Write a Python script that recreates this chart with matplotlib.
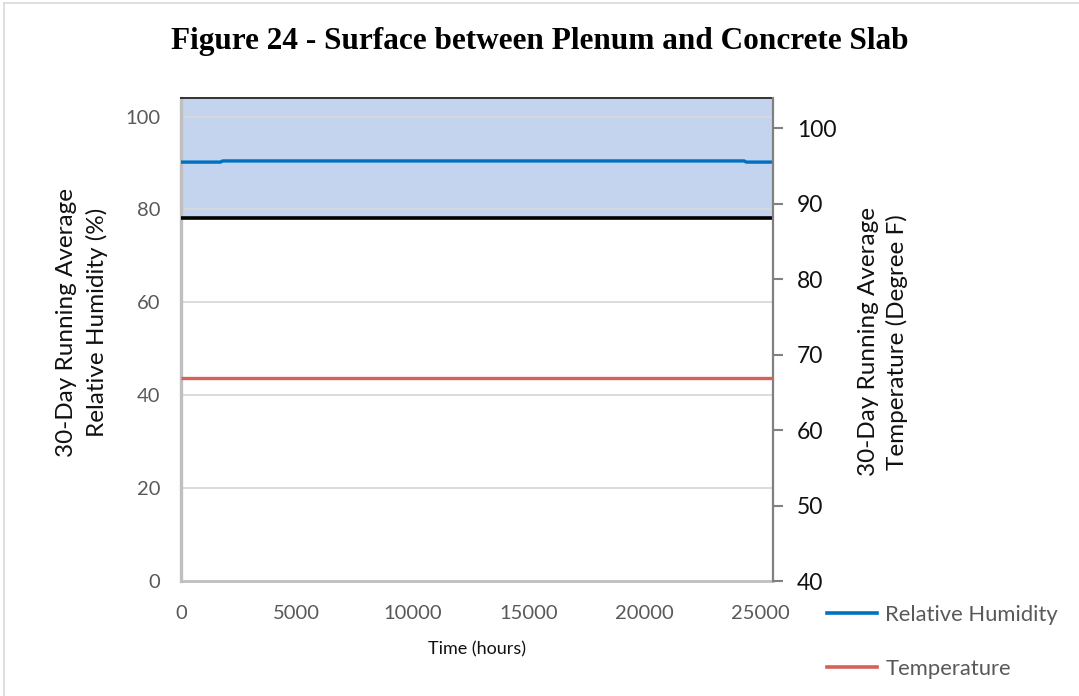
import matplotlib
matplotlib.use("Agg")
import matplotlib.pyplot as plt
from matplotlib.lines import Line2D

# ---- data ----
time_hours = [0, 1700, 1800, 24300, 24400, 25550]
rh_percent = [90.2, 90.2, 90.45, 90.45, 90.2, 90.2]
temp_time = [0, 25550]
temp_degf = [66.9, 66.9]
rh_threshold = 78.2

x_ticks = [0, 5000, 10000, 15000, 20000, 25000]
rh_ticks = [0, 20, 40, 60, 80, 100]
temp_ticks = [40, 50, 60, 70, 80, 90, 100]

title = "Figure 24 - Surface between Plenum and Concrete Slab"
xlabel = "Time (hours)"
ylabel_left = "30-Day Running Average\nRelative Humidity (%)"
ylabel_right = "30-Day Running Average\nTemperature (Degree F)"
series_names = ["Relative Humidity", "Temperature"]

FONT = "Lato"
BLUE = "#0070C0"
RED = "#D6605A"
FILL = "#C5D4EE"
GRID = "#D9D9D9"

plt.rcParams["font.family"] = [FONT, "DejaVu Sans"]

fig = plt.figure(figsize=(10.79, 6.96), dpi=100)
W, H = 1079, 696
ax = fig.add_axes([181 / W, 1 - 581 / H, (773 - 181) / W, (581 - 98) / H])
ax2 = ax.twinx()

ax.set_xlim(0, 25550)
ax.set_ylim(0, 104)
ax2.set_ylim(40, 104)

# shaded band above the humidity threshold
ax.axhspan(rh_threshold, 104, color=FILL, zorder=1, lw=0)
for t in rh_ticks[1:]:
    ax.axhline(t, color=GRID, lw=1.3, zorder=1.5)
ax.axhline(rh_threshold, color="black", lw=2.6, zorder=3)

ax.plot(time_hours, rh_percent, color=BLUE, lw=2.4, zorder=4, solid_capstyle="butt")
ax2.plot(temp_time, temp_degf, color=RED, lw=2.4, zorder=4, clip_on=False,
         solid_capstyle="butt")

# axes styling
for a in (ax, ax2):
    for s in a.spines.values():
        s.set_visible(False)
ax.spines["left"].set_visible(True)
ax.spines["left"].set_color("#BFBFBF")
ax.spines["left"].set_linewidth(2.4)
ax.spines["bottom"].set_visible(True)
ax.spines["bottom"].set_color("#BFBFBF")
ax.spines["bottom"].set_linewidth(2.0)
ax.spines["top"].set_visible(True)
ax.spines["top"].set_color("#333333")
ax.spines["top"].set_linewidth(1.4)
ax2.spines["right"].set_visible(True)
ax2.spines["right"].set_color("#808080")
ax2.spines["right"].set_linewidth(1.6)

ax.set_xticks(x_ticks)
ax.set_xticklabels([str(v) for v in x_ticks])
ax.set_yticks(rh_ticks)
ax.set_yticklabels([str(v) for v in rh_ticks])
ax.tick_params(axis="x", length=0, pad=17, labelsize=14.5, labelcolor="#595959")
ax.tick_params(axis="y", length=0, pad=15, labelsize=14.5, labelcolor="#595959")

ax2.set_yticks(temp_ticks)
ax2.set_yticklabels([str(v) for v in temp_ticks])
ax2.tick_params(axis="y", direction="out", length=7, width=1.5, color="#808080",
                pad=10, labelsize=16.5, labelcolor="#111111")

ax.set_xlabel(xlabel, fontsize=13, color="#111111", labelpad=14)
ax.set_ylabel(ylabel_left, fontsize=17.5, color="#111111", linespacing=1.5)
ax.yaxis.set_label_coords(-0.123, 0.535)
ax2.set_ylabel(ylabel_right, fontsize=17.5, color="#111111", linespacing=1.4)
ax2.yaxis.set_label_coords(1.143, 0.495)

fig.text(540 / W, 1 - 42 / H, title, ha="center", va="center",
         fontsize=22.5, fontweight="bold", family="Liberation Serif")

# legend outside on the right
handles = [Line2D([], [], color=BLUE, lw=2.6), Line2D([], [], color=RED, lw=2.6)]
leg = fig.legend(handles, series_names, loc="upper left",
                 bbox_to_anchor=(827 / W, 1 - 605 / H), frameon=False,
                 fontsize=15.8, handlelength=2.3, handletextpad=0.35,
                 labelspacing=1.55, borderaxespad=0, borderpad=0)
for txt in leg.get_texts():
    txt.set_color("#595959")

# thin chart-area border
fig.add_artist(Line2D([4 / W, 1], [1 - 3 / H, 1 - 3 / H], color="#D9D9D9", lw=1.2))
fig.add_artist(Line2D([4 / W, 4 / W], [0, 1 - 3 / H], color="#D9D9D9", lw=1.2))

fig.savefig("out.png", dpi=100, facecolor="white")
